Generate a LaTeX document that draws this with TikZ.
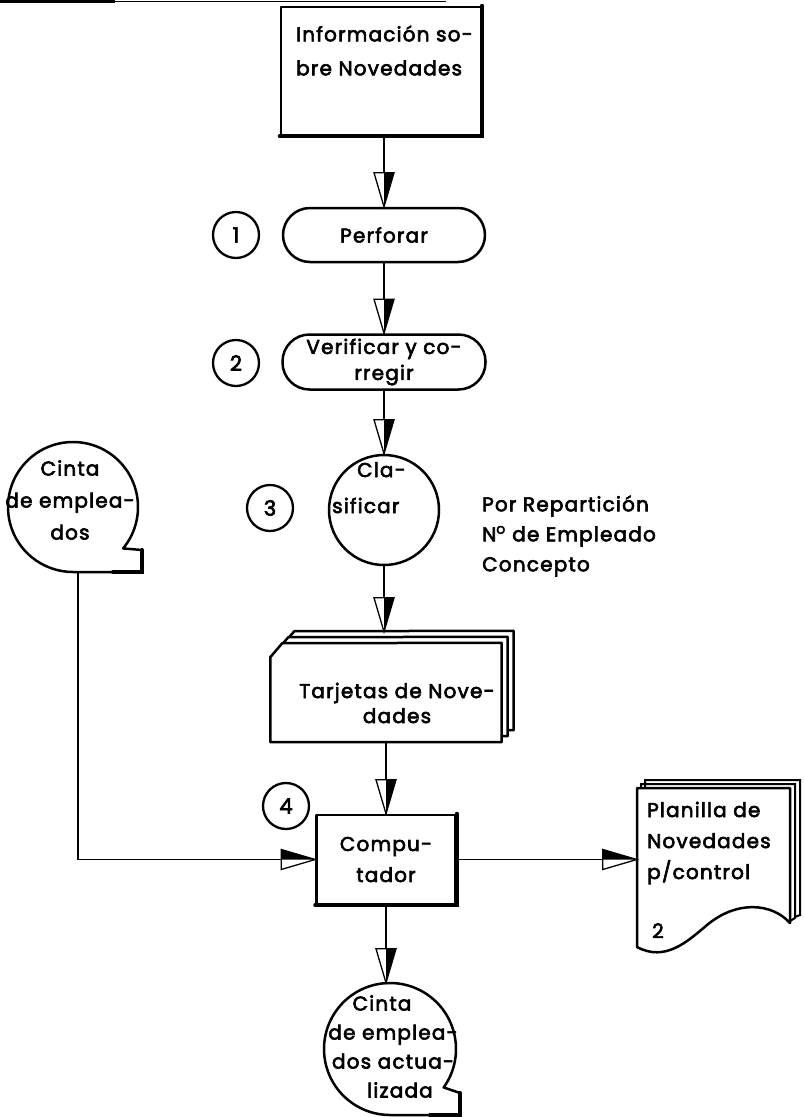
\documentclass[tikz,border=0pt]{standalone}
\usepackage{fontspec}
\setmainfont{Poppins}[LetterSpace=6, FakeBold=3]
\usetikzlibrary{decorations.markings}

\tikzset{
  outline/.style={draw, line width=2.5pt, fill=white, line join=round},
  box/.style={rectangle, outline, inner sep=0},
  pill/.style={rectangle, rounded corners=27pt, outline, inner sep=0, align=center},
  num/.style={circle, draw, line width=2.3pt, minimum size=46pt, inner sep=0,
    font=\fontsize{21}{22}\selectfont},
  lbl/.style={inner sep=0, align=center, font=\fontsize{20}{#1}\selectfont},
  lbl/.default=30,
  heavy/.style={line width=4pt, line cap=round},
  conn/.style={line width=1.6pt, postaction=decorate,
    decoration={markings, mark=at position 1 with {
      \filldraw[fill=white, line width=1.3pt, line join=miter]
        (0,0) -- (-34pt,10pt) -- (-34pt,-10pt) -- cycle;
      \fill (0,0) -- (-34pt,0) -- (-34pt,10pt) -- cycle;}}},
}

\begin{document}
\begin{tikzpicture}[x=1pt,y=1pt]
\fill[white] (0,0) rectangle (805,-1117);
\useasboundingbox (0,0) rectangle (805,-1117);

% rule along the upper edge
\draw[line width=3pt] (0,-1.5) -- (115,-1.5);
\draw[line width=1pt] (115,-1) -- (446,-1);

% source document
\node[box, minimum width=200pt, minimum height=128pt] (info) at (381,-71) {};
\draw[heavy] (info.north east) -- (info.south east) -- (info.south west);
\node[lbl=34, align=left, anchor=west] (infotext) at (296,-50.5) {Información so-\\bre Novedades};

% step 1
\node[pill, minimum width=202pt, minimum height=54pt, lbl=22]
  (perf) at (384,-235) {Perforar};
\node[num] (n1) at (236,-235) {1};

% step 2
\node[pill, minimum width=203pt, minimum height=55pt, lbl=26]
  (verif) at (384,-362) {Verificar y co-\\rregir};
\node[num] (n2) at (236,-363) {2};

% step 3
\node[circle, outline, minimum size=110pt, inner sep=0] (clas) at (384,-510) {};
\node[lbl, anchor=base west] (clas1) at (357,-477) {Cla-};
\node[lbl, anchor=base west] (clas2) at (332,-513) {sificar};
\node[num] (n3) at (270,-508) {3};
\node[lbl, align=left, anchor=west] (sortkeys) at (482,-536)
  {Por Repartición\\ N\textsuperscript{o} de Empleado\\Concepto};

% employee tape
\node[circle, minimum size=130pt, inner sep=0] (tapeL) at (73,-507) {};
\draw[outline] (tapeL.center) ++(-39.6:65pt) arc[start angle=-39.6, end angle=270, radius=65pt]
  -- ++(69,0) -- ++(0,22) -- cycle;
\draw[heavy] (tapeL.center) ++(40,-65) -- ++(29,0) -- ++(0,22);
\node[lbl=32] (tapeLtext) at (70,-500) {Cinta\\de emplea-\\dos};

% card deck
\node[minimum width=231pt, minimum height=99pt, inner sep=0] (tarj) at (386,-692.5) {};
\foreach \d in {12,6,0}{
  \filldraw[outline] ([shift={(\d,\d)}]tarj.south west) -- ++(0,85) -- ++(12,14)
    -- ([shift={(\d,\d)}]tarj.north east) -- ([shift={(\d,\d)}]tarj.south east) -- cycle;
}
\node[lbl=25] (tarjtext) at (397,-703) {Tarjetas de Nove-\\dades};

% step 4
\node[box, minimum width=139pt, minimum height=89pt, lbl=31, draw] (comp) at (386,-859.5)
  {Compu-\\tador};
\draw[heavy] (comp.north east) -- (comp.south east) -- (comp.south west);
\node[num] (n4) at (286,-806) {4};

% control listing
\node[minimum width=153pt, minimum height=160pt, inner sep=0] (plan) at (713.5,-868) {};
\draw[line width=2pt] (645,-788) -- (645,-780) -- (800,-780) -- (800,-915) -- (795,-917);
\draw[line width=2pt] (641,-788) -- (641,-784) -- (795,-784) -- (795,-918) -- (790,-921);
\filldraw[outline] (637,-788) -- (790,-788) -- (790,-923)
  .. controls (772,-903) and (737,-900) .. (707,-925)
  .. controls (687,-942) and (665,-962) .. (637,-947) -- cycle;
\node[lbl=31, align=left, anchor=west] (plantext) at (647,-843) {Planilla de\\Novedades\\p/control};
\node[lbl, anchor=base west] (copies) at (652,-938) {2};

% updated tape
\node[circle, minimum size=132pt, inner sep=0] (tapeB) at (390,-1049) {};
\draw[outline] (tapeB.center) ++(-35.6:66pt) arc[start angle=-35.6, end angle=270, radius=66pt]
  -- ++(70,0) -- ++(0,22) -- cycle;
\draw[heavy] (tapeB.center) ++(40,-66) -- ++(30,0) -- ++(0,22);
\node[lbl=29] (tapeBtext) at (393,-1046.5)
  {Cinta\hspace*{22pt}\\de emplea-\\dos actua-\\\hspace*{14pt}lizada};

% flow
\draw[conn] (info.south -| perf.north) -- (perf.north);
\draw[conn] (perf.south) -- (verif.north);
\draw[conn] (verif.south) -- (clas.north);
\draw[conn] (clas.south) -- ([yshift=11pt]clas.south |- tarj.north);
\draw[conn] (tarj.south) -- (comp.north);
\draw[conn] ([xshift=5pt]tapeL.south) |- (comp.west);
\draw[conn] (comp.east) -- (comp.east -| plan.west);
\draw[conn] (comp.south) -- (comp.south |- tapeB.north);
\end{tikzpicture}
\end{document}
